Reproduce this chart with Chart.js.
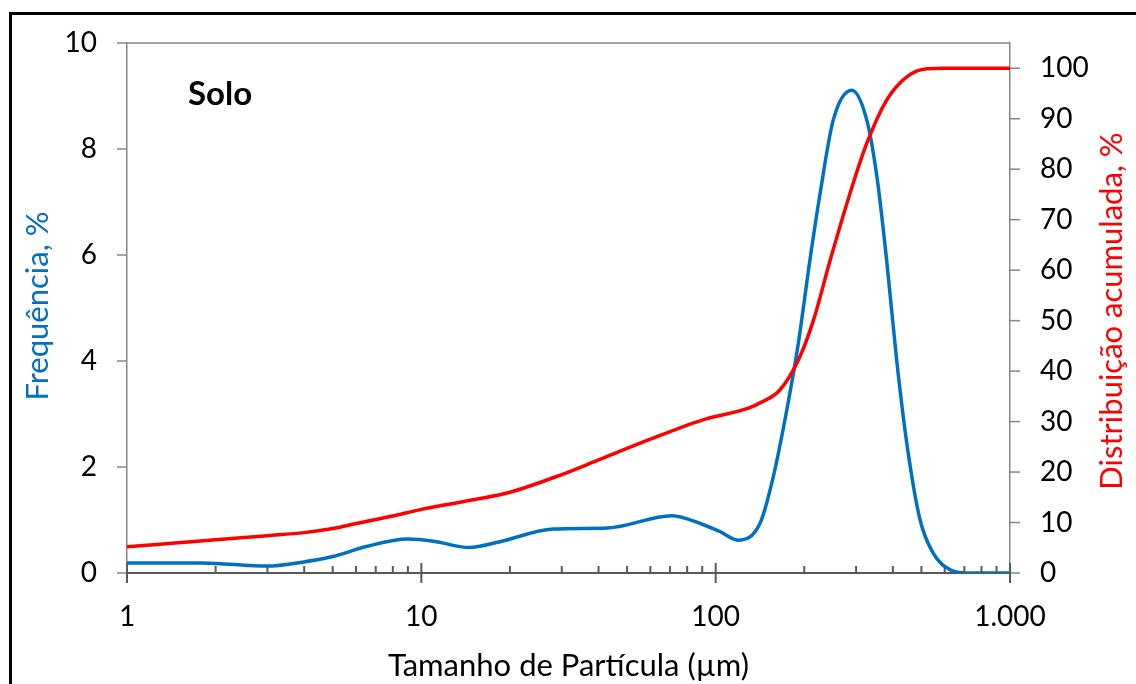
<!DOCTYPE html>
<html lang="pt-BR">
<head>
<meta charset="utf-8">
<title>Solo - distribuição granulométrica</title>
<script src="https://cdn.jsdelivr.net/npm/chart.js@4.4.1/dist/chart.umd.min.js"></script>
<style>
  html, body { margin: 0; padding: 0; background: #fff; }
  #wrap { position: relative; width: 1136px; height: 684px; overflow: hidden; background: #fff; }
  #chart { position: absolute; left: 0; top: 0; }
  #frame { position: absolute; left: 9px; top: 12px; width: 1300px; height: 900px; border-top: 3px solid #000; border-left: 3px solid #000; pointer-events: none; }
</style>
</head>
<body>
<div id="wrap">
  <canvas id="chart" width="1136" height="684"></canvas>
  <div id="frame"></div>
</div>
<script>
// tamanho de partícula (µm) e frequência (%)
const freqSizes = [1, 1.8, 3, 3.9, 5, 6.5, 9, 11, 14.5, 18.5, 28, 43, 71, 90, 103.5, 119, 141.5, 157, 174.5, 191, 209, 226.5, 251, 290, 326, 353, 381, 412, 446, 495, 549, 626, 713, 1000];
const freqValues = [0.19, 0.19, 0.13, 0.2, 0.31, 0.5, 0.64, 0.6, 0.48, 0.59, 0.83, 0.85, 1.08, 0.92, 0.78, 0.62, 0.94, 1.82, 3.08, 4.34, 5.9, 7.17, 8.55, 9.11, 8.55, 7.48, 5.9, 4.02, 2.45, 1.0, 0.37, 0.06, 0, 0];

// distribuição acumulada (%)
const cumSizes = [1, 2, 3, 4, 5, 6, 8, 10, 15, 20, 30, 40, 60, 90, 130, 141.5, 165, 191, 215, 245, 286, 326, 381, 446, 522, 600, 1000];
const cumValues = [5.2, 6.6, 7.4, 8.0, 8.8, 9.8, 11.3, 12.6, 14.5, 16, 19.5, 22.4, 26.5, 30.3, 32.7, 33.7, 36.2, 42.2, 50.1, 62, 75.2, 85.1, 93.7, 98.3, 99.9, 100, 100];

const xTicks = [1, 10, 100, 1000];
const freqTicks = [0, 2, 4, 6, 8, 10];
const cumTicks = [0, 10, 20, 30, 40, 50, 60, 70, 80, 90, 100];

const BLUE = "#0070C0";
const RED = "#FF0000";
const FONT = "Lato, 'Open Sans', sans-serif";

const formatThousands = (v) => String(v).replace(/\B(?=(\d{3})+(?!\d))/g, ".");
const toPoints = (xs, ys) => xs.map((x, i) => ({ x, y: ys[i] }));

function line(ctx, x1, y1, x2, y2) {
  ctx.beginPath();
  ctx.moveTo(x1, y1);
  ctx.lineTo(x2, y2);
  ctx.stroke();
}

// largura fixa dos eixos verticais, sem folga extra acima/abaixo
const fixWidth = (w) => (s) => {
  s.width = w;
  s.paddingTop = 0;
  s.paddingBottom = 0;
};

// marcas dos eixos, borda superior e títulos
const axisMarks = {
  id: "axisMarks",
  beforeDatasetsDraw(chart) {
    const { ctx, chartArea: a, scales } = chart;
    ctx.save();
    ctx.strokeStyle = "#868686";
    ctx.lineWidth = 1.5;
    line(ctx, a.left, a.top, a.right, a.top);
    scales.y.ticks.forEach((t) => {
      const py = scales.y.getPixelForValue(t.value);
      line(ctx, a.left - 10, py, a.left, py);
    });
    scales.y1.ticks.forEach((t) => {
      const py = scales.y1.getPixelForValue(t.value);
      line(ctx, a.right, py, a.right + 10, py);
    });
    ctx.strokeStyle = "#595959";
    ctx.lineWidth = 2;
    for (let d = 0; d < xTicks.length - 1; d++) {
      for (let k = 2; k <= 9; k++) {
        const px = scales.x.getPixelForValue(k * xTicks[d]);
        line(ctx, px, a.bottom - 7, px, a.bottom);
      }
    }
    xTicks.forEach((v) => {
      const px = scales.x.getPixelForValue(v);
      line(ctx, px, a.bottom - 10, px, a.bottom + 10);
    });
    ctx.restore();
  },
  afterDraw(chart) {
    const { ctx, chartArea: a } = chart;
    const midY = (a.top + a.bottom) / 2;
    ctx.save();
    ctx.textAlign = "center";
    ctx.textBaseline = "middle";
    ctx.font = `31px ${FONT}`;

    ctx.fillStyle = "#000";
    ctx.fillText("Tamanho de Partícula (µm)", (a.left + a.right) / 2, 666);

    ctx.save();
    ctx.translate(38, midY - 2);
    ctx.rotate(-Math.PI / 2);
    ctx.fillStyle = BLUE;
    ctx.fillText("Frequência, %", 0, 0);
    ctx.restore();

    ctx.save();
    ctx.translate(1112, midY + 3);
    ctx.rotate(-Math.PI / 2);
    ctx.fillStyle = RED;
    ctx.fillText("Distribuição acumulada, %", 0, 0);
    ctx.restore();

    ctx.textAlign = "left";
    ctx.textBaseline = "alphabetic";
    ctx.fillStyle = "#000";
    ctx.font = `bold 33px ${FONT}`;
    ctx.fillText("Solo", 188, 105);
    ctx.restore();
  }
};

function render() {
  const tickFont = { family: FONT, size: 28 };
  new Chart(document.getElementById("chart"), {
    type: "line",
    data: {
      datasets: [
        {
          label: "Distribuição acumulada",
          data: toPoints(cumSizes, cumValues),
          yAxisID: "y1",
          borderColor: RED,
          borderWidth: 3.5,
          pointRadius: 0,
          cubicInterpolationMode: "monotone",
          order: 0
        },
        {
          label: "Frequência",
          data: toPoints(freqSizes, freqValues),
          yAxisID: "y",
          borderColor: BLUE,
          borderWidth: 3.5,
          pointRadius: 0,
          cubicInterpolationMode: "monotone",
          order: 1
        }
      ]
    },
    options: {
      responsive: false,
      animation: false,
      events: [],
      layout: { padding: { top: 43, left: 0, right: 0, bottom: 0 } },
      plugins: { legend: { display: false }, tooltip: { enabled: false } },
      scales: {
        x: {
          type: "logarithmic",
          min: 1,
          max: 1000,
          afterBuildTicks: (s) => { s.ticks = xTicks.map((value) => ({ value })); },
          afterFit: (s) => { s.height = 111; },
          grid: { display: false, drawTicks: false },
          border: { color: "#595959", width: 2 },
          ticks: { autoSkip: false, maxRotation: 0, padding: 27, color: "#000", font: tickFont, callback: (v) => formatThousands(v) }
        },
        y: {
          position: "left",
          min: 0,
          max: 10,
          afterBuildTicks: (s) => { s.ticks = freqTicks.map((value) => ({ value })); },
          afterFit: fixWidth(127),
          grid: { display: false, drawTicks: false },
          border: { color: "#868686", width: 1.5 },
          ticks: { padding: 30, color: "#000", font: tickFont }
        },
        y1: {
          position: "right",
          min: 0,
          max: 105,
          afterBuildTicks: (s) => { s.ticks = cumTicks.map((value) => ({ value })); },
          afterFit: fixWidth(126),
          grid: { display: false, drawTicks: false },
          border: { color: "#868686", width: 1.5 },
          ticks: { padding: 30, color: "#000", font: tickFont }
        }
      }
    },
    plugins: [axisMarks]
  });
}

if (document.fonts && document.fonts.load) {
  Promise.all([document.fonts.load(`28px Lato`), document.fonts.load(`bold 33px Lato`)]).then(render, render);
} else {
  render();
}
</script>
</body>
</html>
